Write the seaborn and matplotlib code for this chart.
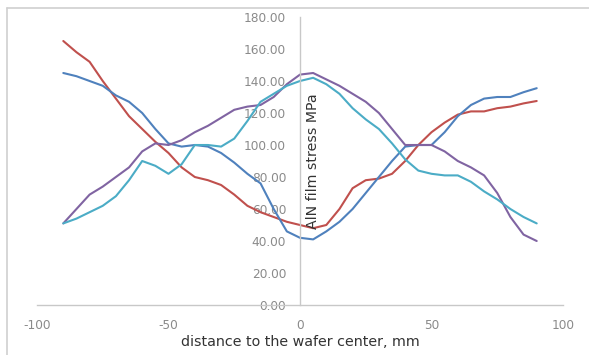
import matplotlib
matplotlib.use("Agg")
import matplotlib.pyplot as plt
import seaborn as sns
import pandas as pd
from matplotlib.lines import Line2D

x_mm = [-90, -85, -80, -75, -70, -65, -60, -55, -50, -45, -40, -35, -30, -25, -20,
        -15, -10, -5, 0, 5, 10, 15, 20, 25, 30, 35, 40, 45, 50, 55, 60, 65, 70,
        75, 80, 85, 90]

red = [165, 158, 152, 140, 129, 118, 110, 102, 95, 86, 80, 78, 75, 69, 62,
       58, 55, 52, 50, 48, 50, 60, 73, 78, 79, 82, 90, 100, 108, 114, 119, 121, 121,
       123, 124, 126, 127.5]
blue = [145, 143, 140, 137, 131, 127, 120, 110, 101, 99, 100, 99, 95, 89, 82,
        76, 60, 46, 42, 41, 46, 52, 60, 70, 80, 90, 99, 100, 100, 108, 118, 125, 129,
        130, 130, 133, 135.5]
purple = [51, 60, 69, 74, 80, 86, 96, 101, 100, 103, 108, 112, 117, 122, 124,
          125, 130, 138, 144, 145, 141, 137, 132, 127, 120, 110, 100, 100, 100, 96, 90, 86, 81,
          70, 55, 44, 40]
cyan = [51, 54, 58, 62, 68, 78, 90, 87, 82, 88, 100, 100, 99, 104, 115,
        127, 132, 137, 140, 142, 138, 132, 123, 116, 110, 101, 91, 84, 82, 81, 81, 77, 71,
        66, 60, 55, 51]

series_names = ["red", "blue", "purple", "cyan"]
series_vals = [red, blue, purple, cyan]
palette = {"red": "#c0504d", "blue": "#4f81bd", "purple": "#8064a2", "cyan": "#4bacc6"}

y_ticks = [0, 20, 40, 60, 80, 100, 120, 140, 160, 180]
x_ticks = [-100, -50, 0, 50, 100]

df = pd.concat([pd.DataFrame({"x": x_mm, "y": v, "s": n})
                for n, v in zip(series_names, series_vals)], ignore_index=True)

sns.set_style("white")
plt.rcParams["font.family"] = ["DejaVu Sans"]

fig = plt.figure(figsize=(5.89, 3.55), dpi=100)
ax = fig.add_axes([37 / 589, 1 - 305 / 355, 526 / 589, 288 / 355])

sns.lineplot(data=df, x="x", y="y", hue="s", palette=palette, ax=ax,
             linewidth=1.5, legend=False, sort=False, estimator=None)

ax.set_xlim(-100, 100)
ax.set_ylim(0, 180)
ax.set_xticks(x_ticks)
ax.set_yticks(y_ticks)
ax.set_yticklabels([f"{v:.2f}" for v in y_ticks])
ax.set_xticklabels([str(v) for v in x_ticks])

for s in ["top", "right"]:
    ax.spines[s].set_visible(False)
ax.spines["left"].set_position(("data", 0))
ax.spines["left"].set_color("#c8c8c8")
ax.spines["bottom"].set_color("#c8c8c8")
ax.spines["left"].set_linewidth(1.0)
ax.spines["bottom"].set_linewidth(1.0)
ax.tick_params(axis="both", length=0, labelsize=8.7, colors="#8a8a8a")
ax.tick_params(axis="y", pad=10)
ax.tick_params(axis="x", pad=10)

ax.set_xlabel("distance to the wafer center, mm", fontsize=10.3, color="#333333", labelpad=2)
ax.set_ylabel("")
ax.text(5, 90, "AlN film stress MPa", rotation=90, ha="center", va="center",
        fontsize=10.2, color="#333333")

# chart area border (top and left edges visible)
fig.add_artist(Line2D([7 / 589, 1.0], [1 - 8 / 355, 1 - 8 / 355], transform=fig.transFigure,
                      color="#d0d0d0", linewidth=1.2))
fig.add_artist(Line2D([7 / 589, 7 / 589], [0.0, 1 - 8 / 355], transform=fig.transFigure,
                      color="#d0d0d0", linewidth=1.2))

fig.savefig("out.png", dpi=100)
